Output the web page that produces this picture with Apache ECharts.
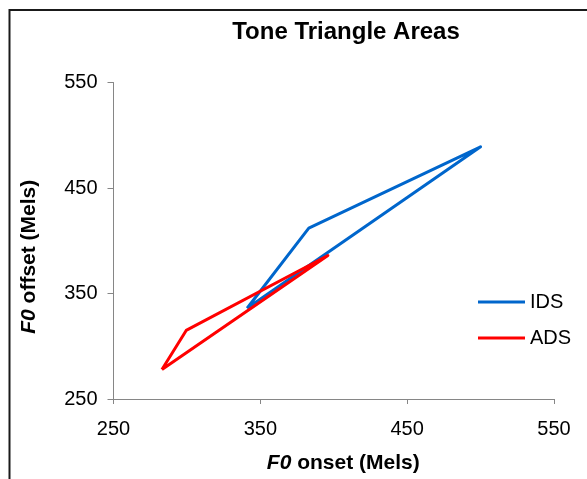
<!DOCTYPE html>
<html>
<head>
<meta charset="utf-8">
<script src="https://cdn.jsdelivr.net/npm/echarts@6/dist/echarts.min.js"></script>
<style>
html,body{margin:0;padding:0;background:#fff;}
#chart{width:587px;height:479px;}
</style>
</head>
<body>
<div id="chart"></div>
<script>
// Data (F0 onset, F0 offset) in Mels — closed triangles
const seriesNames = ['IDS', 'ADS'];
const idsOnset  = [341, 383, 500, 341];
const idsOffset = [336, 412, 489, 336];
const adsOnset  = [283, 299.5, 396, 283];
const adsOffset = [278, 315, 386, 278];
const xTicks = [250, 350, 450, 550];
const yTicks = [250, 350, 450, 550];

const font = 'Liberation Sans, Arial, sans-serif';
const zip = (a, b) => a.map((v, i) => [v, b[i]]);

const chart = echarts.init(document.getElementById('chart'), null, {renderer: 'canvas'});
chart.setOption({
  animation: false,
  backgroundColor: '#fff',
  textStyle: {fontFamily: font},
  graphic: [{
    type: 'rect',
    shape: {x: 9.5, y: 10, width: 700, height: 700},
    style: {fill: null, stroke: '#1a1a1a', lineWidth: 2},
    silent: true
  }],
  title: {
    text: 'Tone Triangle Areas',
    left: 346, textAlign: 'center',
    top: 20, padding: 0,
    textStyle: {fontFamily: font, fontSize: 24, fontWeight: 'bold', color: '#000'}
  },
  legend: {
    orient: 'vertical',
    left: 473, top: 287,
    itemWidth: 47, itemHeight: 3,
    itemGap: 16,
    icon: 'rect',
    textStyle: {fontFamily: font, fontSize: 20, color: '#000', lineHeight: 20, padding: [0,0,0,0]},
    data: seriesNames
  },
  grid: {left: 113.5, right: 33, top: 82.5, bottom: 80, containLabel: false},
  xAxis: {
    type: 'value', min: xTicks[0], max: xTicks[xTicks.length - 1], interval: 100,
    name: '{i|F0} onset (Mels)',
    nameLocation: 'middle', nameGap: 54,
    nameTextStyle: {
      fontFamily: font, fontSize: 21, fontWeight: 'bold', color: '#000', padding: [0, 0, 0, 19],
      rich: {i: {fontFamily: font, fontSize: 21, fontWeight: 'bold', fontStyle: 'italic', color: '#000'}}
    },
    axisLine: {show: true, onZero: false, lineStyle: {color: '#868686', width: 1}},
    axisTick: {show: true, inside: false, length: 5, lineStyle: {color: '#868686'}},
    axisLabel: {fontFamily: font, fontSize: 20, color: '#000', margin: 20},
    splitLine: {show: false}
  },
  yAxis: {
    type: 'value', min: yTicks[0], max: yTicks[yTicks.length - 1], interval: 100,
    name: '{i|F0} offset (Mels)',
    nameLocation: 'middle', nameGap: 74, nameRotate: 90,
    nameTextStyle: {
      fontFamily: font, fontSize: 21, fontWeight: 'bold', color: '#000', padding: [0, 32, 0, 0],
      rich: {i: {fontFamily: font, fontSize: 21, fontWeight: 'bold', fontStyle: 'italic', color: '#000'}}
    },
    axisLine: {show: true, onZero: false, lineStyle: {color: '#868686', width: 1}},
    axisTick: {show: true, inside: false, length: 6, lineStyle: {color: '#868686'}},
    axisLabel: {fontFamily: font, fontSize: 20, color: '#000', margin: 16},
    splitLine: {show: false}
  },
  series: [
    {
      name: seriesNames[0], type: 'line', data: zip(idsOnset, idsOffset),
      showSymbol: false, symbol: 'none',
      lineStyle: {color: '#0066CC', width: 3, join: 'round'},
      itemStyle: {color: '#0066CC'}
    },
    {
      name: seriesNames[1], type: 'line', data: zip(adsOnset, adsOffset),
      showSymbol: false, symbol: 'none',
      lineStyle: {color: '#FF0000', width: 3, join: 'round'},
      itemStyle: {color: '#FF0000'}
    }
  ]
});
</script>
</body>
</html>
